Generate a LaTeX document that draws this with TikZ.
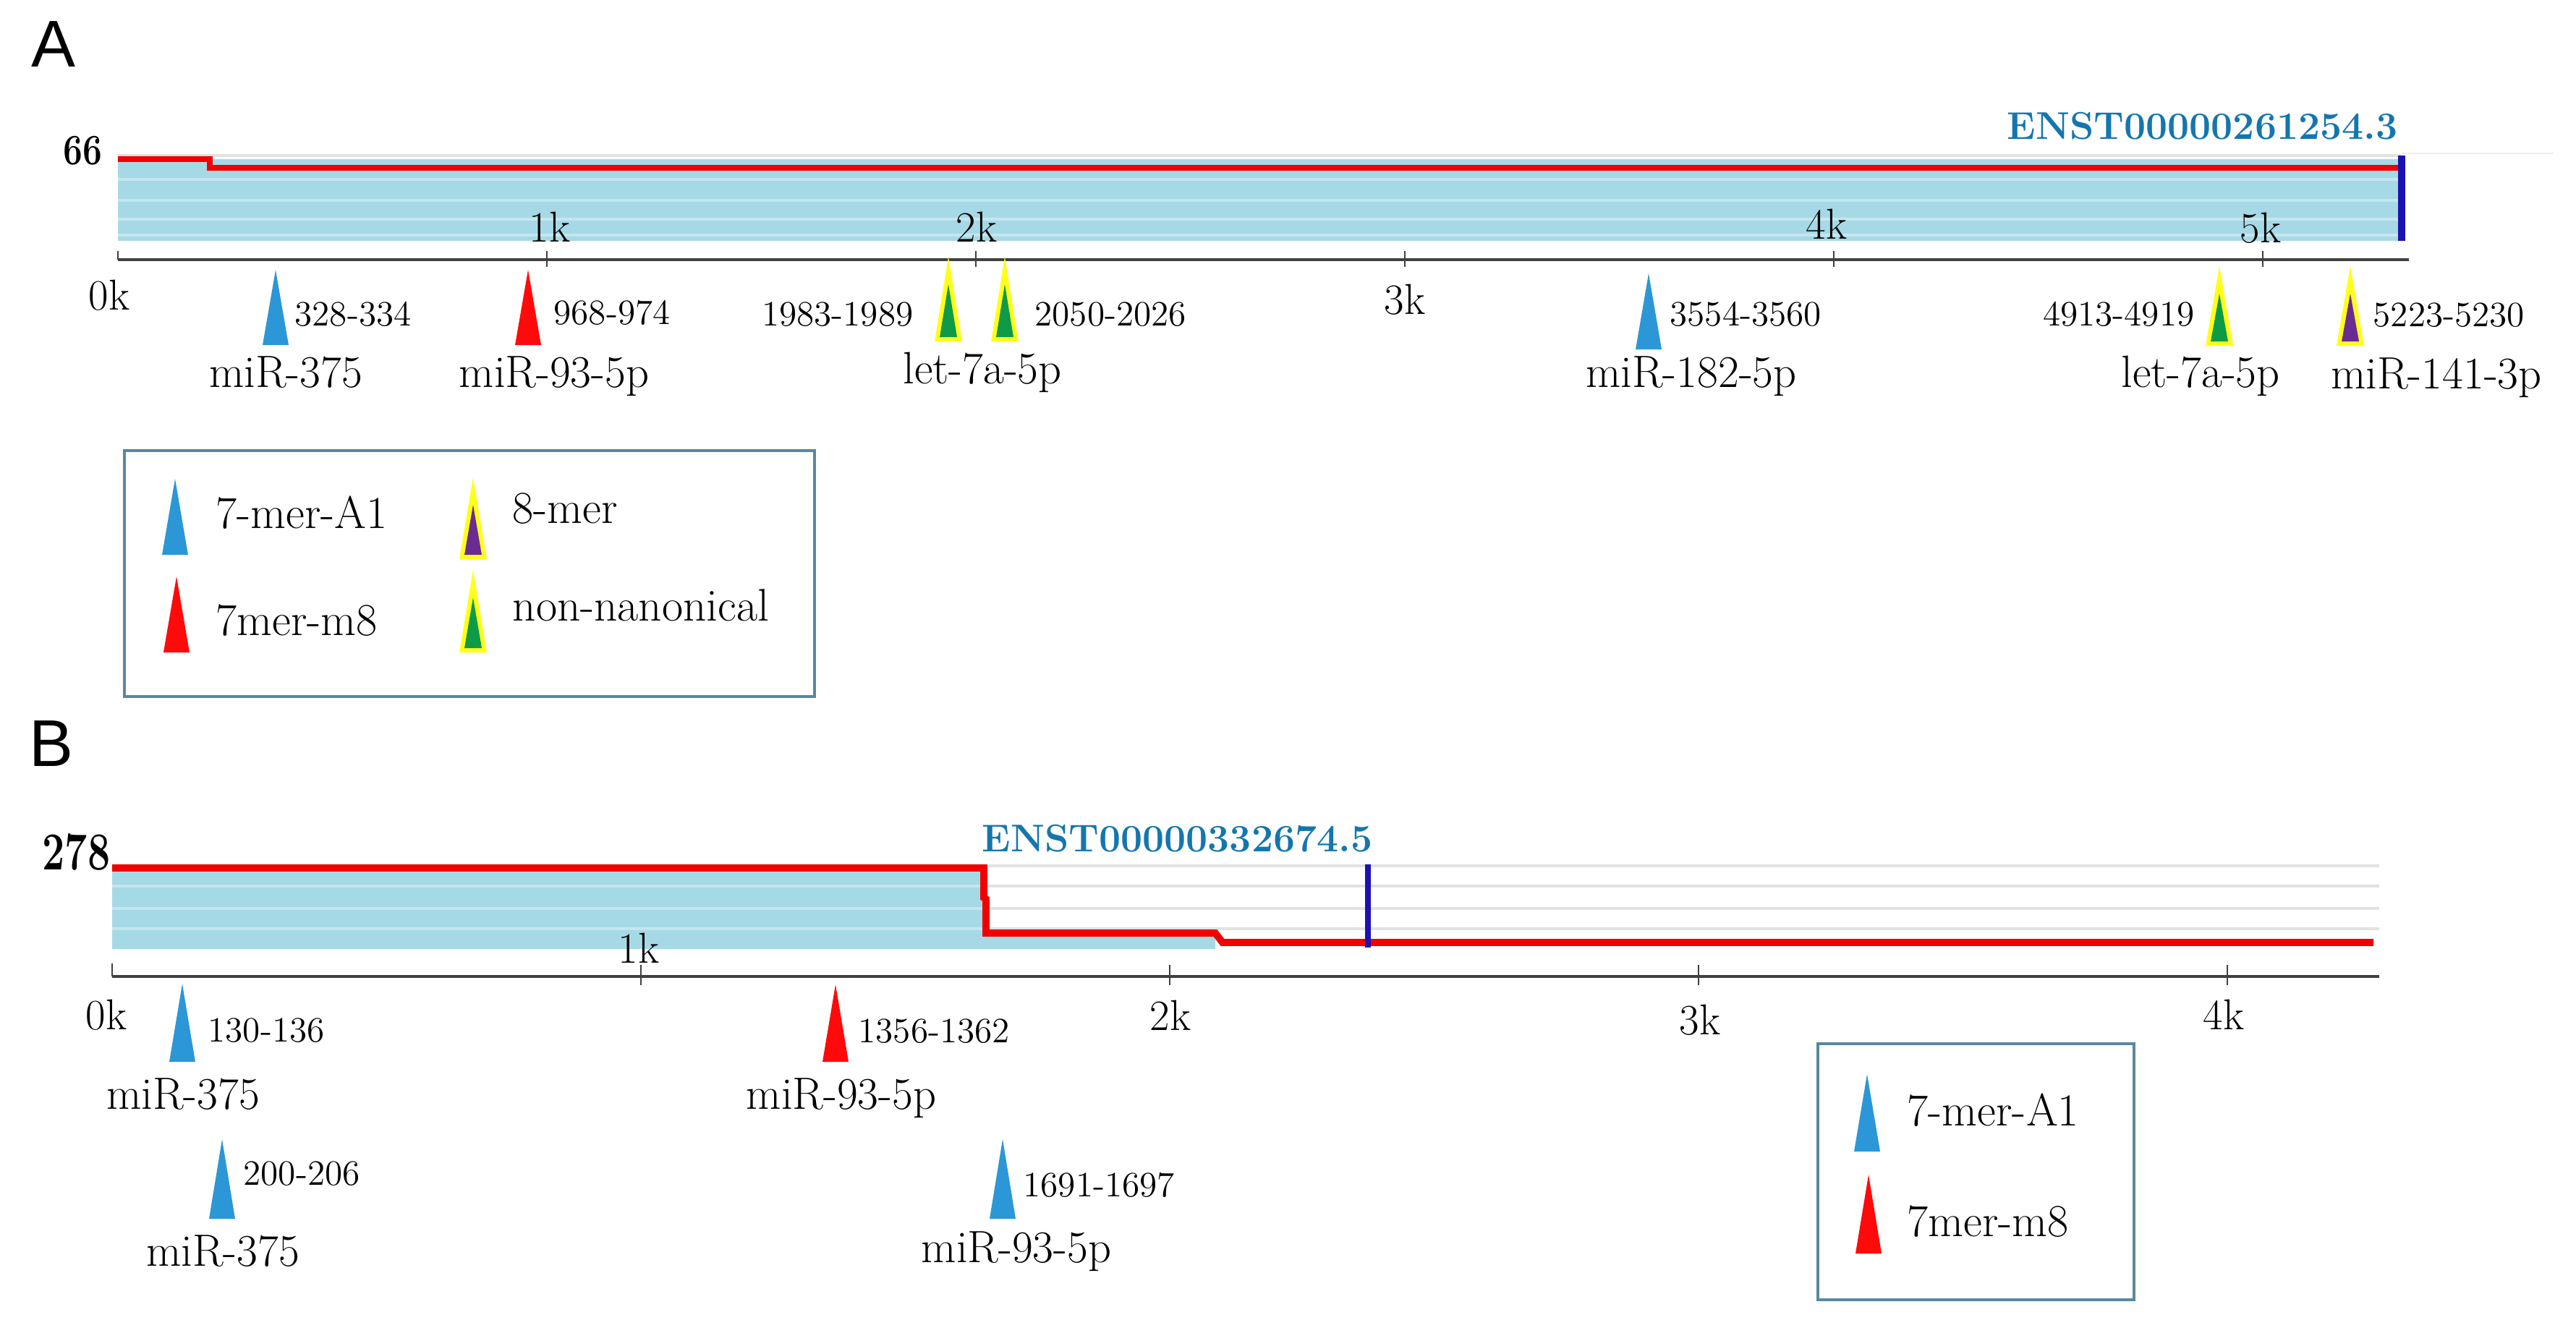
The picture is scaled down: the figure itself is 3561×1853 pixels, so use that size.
\documentclass[tikz,border=0pt]{standalone}
\usepackage{fontspec}
\usepackage{graphicx}
\newfontfamily\panelfont{Liberation Sans}
\definecolor{cover}{HTML}{A6D9E6}
\definecolor{stripe}{HTML}{E2E2E2}
\definecolor{covred}{HTML}{F20000}
\definecolor{endblue}{HTML}{1C12B4}
\definecolor{enstblue}{HTML}{1476AE}
\definecolor{sitebl}{HTML}{2B97D6}
\definecolor{sitered}{HTML}{FF0A0A}
\definecolor{siteyel}{HTML}{FFFF1A}
\definecolor{sitegrn}{HTML}{0E9A46}
\definecolor{sitepur}{HTML}{6A2B93}
\definecolor{boxline}{HTML}{5A87A0}
\definecolor{axisgray}{HTML}{404040}
\newcommand{\mirsite}[4]{\fill[#4] (#1-18,#3) -- (#1,#2) -- (#1+18,#3) -- cycle;}
\newcommand{\ringsite}[4]{%
  \fill[siteyel] (#1-19,#3) -- (#1,#2) -- (#1+19,#3) -- cycle;
  \fill[#4] (#1-12,#3-6) -- (#1,#2+38) -- (#1+12,#3-6) -- cycle;}
\begin{document}
\begin{tikzpicture}[x=0.01cm, y=-0.01cm,
    mir/.style={font=\fontsize{17.8}{21}\selectfont, inner sep=0pt, anchor=base},
    sitespan/.style={font=\fontsize{14}{16}\selectfont, inner sep=0pt, anchor=base west},
    sitespanl/.style={sitespan, anchor=base east},
    kb/.style={font=\fontsize{17}{20}\selectfont, inner sep=0pt},
    ymax/.style={font=\fontsize{17}{20}\selectfont\bfseries, inner sep=0pt, anchor=east},
    enst/.style={font=\fontsize{15.2}{18}\selectfont\bfseries, text=enstblue, inner sep=0pt},
    keybox/.style={draw=boxline, line width=0.9pt},
    keytext/.style={font=\fontsize{18}{21}\selectfont, inner sep=0pt, anchor=base west},
    panel/.style={font=\panelfont\fontsize{26}{30}\selectfont, inner sep=0pt}]
    \useasboundingbox (0,0) rectangle (3561,1853);

    \node[panel] (pa) at (74,61) {A};
    \draw[stripe, line width=1pt] (163,215) -- (3320,215);
    \draw[stripe!60, line width=0.6pt] (3320,212) -- (3530,212);
    \fill[cover] (163,220) rectangle (3320,333);
    \foreach \y in {248,277,303,325}
        \draw[white, opacity=.35, line width=1pt] (163,\y) -- (3320,\y);
    \draw[covred, line width=2.2pt] (163,220) -- (290,220) -- (290,232) -- (3317,232);
    \draw[endblue, line width=2.6pt] (3320,215) -- (3320,333);
    \node[ymax] (ya) at (142,208) {\scalebox{0.8}[1]{66}};
    \node[enst, anchor=base east] (ensta) at (3315,192) {ENST00000261254.3};
    \draw[axisgray, line width=1.3pt] (163,359) -- (3330,359);
    \draw[axisgray, line width=0.8pt] (163,347) -- (163,359);
    \foreach \k in {1,...,5}
        \draw[axisgray, line width=0.8pt] (163+593*\k,347) -- (163+593*\k,369);
    \node[kb] (a0k) at (151,408) {0k};
    \node[kb] (a1k) at (760,314) {1k};
    \node[kb] (a2k) at (1350,314) {2k};
    \node[kb] (a3k) at (1942,414) {3k};
    \node[kb] (a4k) at (2525,310) {4k};
    \node[kb] (a5k) at (3125,315) {5k};

    \mirsite{381}{373}{477}{sitebl}
    \mirsite{730}{373}{477}{sitered}
    \mirsite{2279}{378}{483}{sitebl}
    \ringsite{1311}{355}{472}{sitegrn}
    \ringsite{1389}{355}{472}{sitegrn}
    \ringsite{3068}{368}{478}{sitegrn}
    \ringsite{3249}{368}{478}{sitepur}
    \node[sitespan] (r328) at (407,450) {328-334};
    \node[sitespan] (r968) at (765,448) {968-974};
    \node[sitespanl] (r1983) at (1263,450) {1983-1989};
    \node[sitespan] (r2050) at (1430,450) {2050-2026};
    \node[sitespan] (r3554) at (2308,450) {3554-3560};
    \node[sitespanl] (r4913) at (3034,450) {4913-4919};
    \node[sitespan] (r5223) at (3280,451) {5223-5230};
    \node[mir] (m375a) at (395,535) {miR-375};
    \node[mir] (m93a) at (766,535) {miR-93-5p};
    \node[mir] (let7a) at (1358,530) {let-7a-5p};
    \node[mir] (m182a) at (2338,535) {miR-182-5p};
    \node[mir] (let7b) at (3042,535) {let-7a-5p};
    \node[mir] (m141a) at (3368,537) {miR-141-3p};

    \draw[keybox] (172,623) rectangle (1126,963);
    \mirsite{242}{662}{767}{sitebl}
    \mirsite{244}{797}{902}{sitered}
    \ringsite{654}{660}{773}{sitepur}
    \ringsite{654}{788}{902}{sitegrn}
    \node[keytext] (ka1) at (298,730) {7-mer-A1};
    \node[keytext] (ka2) at (298,878) {7mer-m8};
    \node[keytext] (ka3) at (708,723) {8-mer};
    \node[keytext] (ka4) at (708,858) {non-nanonical};

    \node[panel] (pb) at (71,1028) {B};
    \foreach \y in {1197,1225,1256,1284}
        \draw[stripe, line width=1.1pt] (155,\y) -- (3289,\y);
    \fill[cover] (155,1202) -- (1360,1202) -- (1360,1295) -- (1680,1295) -- (1680,1312) -- (155,1312) -- cycle;
    \foreach \y in {1225,1256,1284}
        \draw[white, opacity=.35, line width=1.1pt] (155,\y) -- (1360,\y);
    \draw[covred, line width=2.8pt] (155,1200) -- (1360,1200) -- (1360,1241) -- (1363,1243)
        -- (1363,1290) -- (1680,1290) -- (1690,1303) -- (3281,1303);
    \draw[endblue, line width=2.2pt] (1891,1195) -- (1891,1310);
    \node[ymax] (yb) at (153,1178) {\scalebox{0.75}[1]{\fontsize{21}{24}\selectfont 278}};
    \node[enst, anchor=base west] (enstb) at (1357,1177) {ENST00000332674.5};
    \draw[axisgray, line width=1.3pt] (155,1350) -- (3289,1350);
    \draw[axisgray, line width=0.8pt] (155,1332) -- (155,1350);
    \foreach \k in {1,...,4}
        \draw[axisgray, line width=0.8pt] (155+731*\k,1334) -- (155+731*\k,1362);
    \node[kb] (b0k) at (147,1403) {0k};
    \node[kb] (b1k) at (883,1311) {1k};
    \node[kb] (b2k) at (1618,1404) {2k};
    \node[kb] (b3k) at (2350,1410) {3k};
    \node[kb] (b4k) at (3074,1403) {4k};

    \mirsite{252}{1360}{1468}{sitebl}
    \mirsite{307}{1575}{1685}{sitebl}
    \mirsite{1155}{1361}{1468}{sitered}
    \mirsite{1386}{1575}{1685}{sitebl}
    \node[sitespan] (r130) at (287,1440) {130-136};
    \node[sitespan] (r200) at (336,1638) {200-206};
    \node[sitespan] (r1356) at (1186,1441) {1356-1362};
    \node[sitespan] (r1691) at (1414,1654) {1691-1697};
    \node[mir] (m375b) at (253,1533) {miR-375};
    \node[mir] (m375c) at (308,1750) {miR-375};
    \node[mir] (m93b) at (1163,1533) {miR-93-5p};
    \node[mir] (m93c) at (1405,1745) {miR-93-5p};

    \draw[keybox] (2513,1443) rectangle (2950,1797);
    \mirsite{2581}{1485}{1592}{sitebl}
    \mirsite{2583}{1624}{1733}{sitered}
    \node[keytext] (kb1) at (2636,1556) {7-mer-A1};
    \node[keytext] (kb2) at (2636,1709) {7mer-m8};
\end{tikzpicture}
\end{document}
